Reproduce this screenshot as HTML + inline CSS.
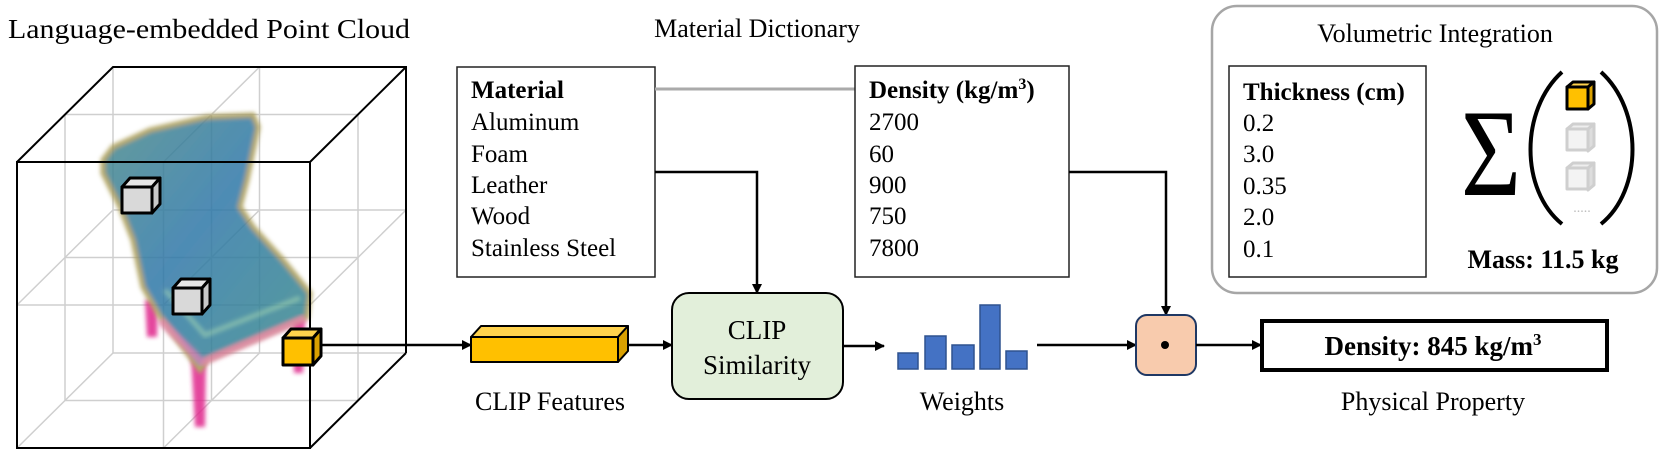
<!DOCTYPE html>
<html><head><meta charset="utf-8"><style>
html,body{margin:0;padding:0;background:#fff;}
svg{display:block;}
svg text{font-family:"Liberation Serif","DejaVu Serif",serif !important;fill:#000;}
</style></head><body>
<svg width="1660" height="455" viewBox="0 0 1660 455" xmlns="http://www.w3.org/2000/svg" font-family="Liberation Serif, serif">
<defs>
<marker id="ah" markerWidth="10" markerHeight="10" refX="9" refY="5" orient="auto" markerUnits="userSpaceOnUse">
<path d="M0,0 L10,5 L0,10 z" fill="#000"/>
</marker>
<filter id="bl" x="-10%" y="-10%" width="120%" height="120%"><feGaussianBlur stdDeviation="2"/></filter>
<linearGradient id="cg" x1="0" y1="0" x2="1" y2="1">
<stop offset="0" stop-color="#4a8a8a"/><stop offset="0.45" stop-color="#2f78a8"/><stop offset="1" stop-color="#3b8a8a"/>
</linearGradient>
</defs>

<g font-family="Liberation Serif, serif">
<text x="8" y="38" font-size="27" textLength="402" lengthAdjust="spacingAndGlyphs">Language-embedded Point Cloud</text>
<text x="757" y="37" font-size="26" text-anchor="middle">Material Dictionary</text>
</g>

<g stroke="#cfcfcf" stroke-width="1.5" fill="none">
<path d="M17,162H310M17,305H310M17,448H310M65,114.5H358M65,257.5H358M65,400.5H358M113,67H406M113,210H406M113,353H406"/>
<path d="M17,162V448M163.5,162V448M310,162V448M65,114.5V400.5M211.5,114.5V400.5M358,114.5V400.5M113,67V353M259.5,67V353M406,67V353"/>
<path d="M17,162l96,-95M163.5,162l96,-95M310,162l96,-95M17,305l96,-95M163.5,305l96,-95M310,305l96,-95M17,448l96,-95M163.5,448l96,-95M310,448l96,-95"/>
</g>

<g opacity="0.85">
<g filter="url(#bl)" fill="#e0258c">
<path d="M145,300 L158,300 L157,337 L147,337 z"/>
<path d="M191,355 L206,355 L205,427 L195,427 z"/>
<path d="M292,318 L305,318 L303,373 L294,373 z"/>
</g>
<path filter="url(#bl)" d="M103,160 L113,147 L150,130 L207,117 L253,115 L258,127 L247,180 L240,207 L253,227 L283,260 L310,293 L307,317 L207,360 L200,370 L160,317 L143,287 L133,240 L120,207 L103,173 z" fill="url(#cg)" stroke="#a89a50" stroke-width="5"/>
<path filter="url(#bl)" d="M160,320 L202,362 L305,318" fill="none" stroke="#e76aa7" stroke-width="8" opacity="0.7"/>
<path filter="url(#bl)" d="M165,290 L205,335 L300,298" fill="none" stroke="#9fd9a8" stroke-width="5" opacity="0.5"/>
</g>

<g stroke="#000" stroke-width="2" fill="none">
<rect x="17" y="162" width="293" height="286"/>
<path d="M17,162L113,67H406V353M310,162L406,67M310,448L406,353"/>
</g>

<g stroke="#000" stroke-width="3" stroke-linejoin="round">
<path d="M122,187 l8,-9 h30 l-8,9 z" fill="#e6e6e6"/><path d="M152,187 l8,-9 v26 l-8,9 z" fill="#c8c8c8"/><rect x="122" y="187" width="30" height="26" fill="#d9d9d9"/>
<path d="M173,288 l8,-9 h29 l-8,9 z" fill="#e6e6e6"/><path d="M202,288 l8,-9 v26 l-8,9 z" fill="#c8c8c8"/><rect x="173" y="288" width="29" height="26" fill="#d9d9d9"/>
<path d="M283,338 l8,-9 h30 l-8,9 z" fill="#ffd24d"/><path d="M313,338 l8,-9 v27 l-8,9 z" fill="#d9a000"/><rect x="283" y="338" width="30" height="27" fill="#ffc000"/>
</g>

<line x1="321" y1="345" x2="471" y2="345" stroke="#000" stroke-width="2.5" marker-end="url(#ah)"/>

<g stroke="#000" stroke-width="2" stroke-linejoin="round">
<path d="M471,337 l10,-11 h147 l-10,11 z" fill="#ffd24d"/>
<path d="M618,337 l10,-11 v25 l-10,11 z" fill="#d9a000"/>
<rect x="471" y="337" width="147" height="25" fill="#ffc000"/>
</g>
<line x1="628" y1="345" x2="672" y2="345" stroke="#000" stroke-width="2.5" marker-end="url(#ah)"/>

<rect x="457" y="67" width="198" height="210" fill="#fff" stroke="#222" stroke-width="1.5"/>
<line x1="655" y1="89" x2="855" y2="89" stroke="#aaaaaa" stroke-width="3"/>
<rect x="855" y="66" width="214" height="211" fill="#fff" stroke="#222" stroke-width="1.5"/>

<path d="M655,172 H757 V293" fill="none" stroke="#000" stroke-width="2.5" marker-end="url(#ah)"/>
<path d="M1069,172 H1166 V315" fill="none" stroke="#000" stroke-width="2.5" marker-end="url(#ah)"/>

<rect x="672" y="293" width="171" height="106" rx="17" fill="#e2efda" stroke="#000" stroke-width="2"/>
<line x1="843" y1="346" x2="884" y2="346" stroke="#000" stroke-width="2.5" marker-end="url(#ah)"/>

<g fill="#4472c4" stroke="#2f528f" stroke-width="1.5">
<rect x="898" y="353" width="20" height="16"/>
<rect x="925" y="336" width="21" height="33"/>
<rect x="952" y="345" width="22" height="24"/>
<rect x="980" y="305" width="20" height="64"/>
<rect x="1006" y="351" width="21" height="18"/>
</g>
<line x1="1037" y1="345" x2="1136" y2="345" stroke="#000" stroke-width="2.5" marker-end="url(#ah)"/>

<rect x="1136" y="315" width="60" height="60" rx="11" fill="#f8cbad" stroke="#1f3864" stroke-width="2"/>
<circle cx="1165" cy="345" r="4" fill="#000"/>
<line x1="1196" y1="345" x2="1261" y2="345" stroke="#000" stroke-width="2.5" marker-end="url(#ah)"/>

<rect x="1262" y="321" width="345" height="49" fill="#fff" stroke="#000" stroke-width="4"/>

<rect x="1212" y="6" width="445" height="287" rx="25" fill="none" stroke="#a6a6a6" stroke-width="2.5"/>
<rect x="1229" y="66" width="197" height="211" fill="#fff" stroke="#222" stroke-width="1.5"/>

<path d="M1562,72 C1520,110 1520,190 1562,224" fill="none" stroke="#000" stroke-width="4"/>
<path d="M1601,72 C1643,110 1643,190 1601,224" fill="none" stroke="#000" stroke-width="4"/>
<g stroke="#000" stroke-width="3" stroke-linejoin="round">
<path d="M1567,87 l6,-5 h21 l-6,5 z" fill="#ffd24d"/><path d="M1588,87 l6,-5 v22 l-6,5 z" fill="#d9a000"/><rect x="1567" y="87" width="21" height="22" fill="#ffc000"/>
</g>
<g stroke="#cfcfcf" stroke-width="3" stroke-linejoin="round">
<path d="M1567,129 l6,-5 h21 l-6,5 z" fill="#eee"/><path d="M1588,129 l6,-5 v22 l-6,5 z" fill="#ddd"/><rect x="1567" y="129" width="21" height="21" fill="#f3f3f3"/>
<path d="M1567,168 l6,-5 h21 l-6,5 z" fill="#eee"/><path d="M1588,168 l6,-5 v22 l-6,5 z" fill="#ddd"/><rect x="1567" y="168" width="21" height="21" fill="#f3f3f3"/>
</g>

<g font-family="Liberation Serif, serif">
<text x="550" y="410" font-size="26" text-anchor="middle">CLIP Features</text>
<g font-size="25">
<text x="471" y="98" font-weight="bold">Material</text>
<text x="471" y="130">Aluminum</text>
<text x="471" y="162">Foam</text>
<text x="471" y="193">Leather</text>
<text x="471" y="224">Wood</text>
<text x="471" y="256">Stainless Steel</text>
<text x="869" y="98" font-weight="bold">Density (kg/m<tspan font-size="16" dy="-9">3</tspan><tspan dy="9">)</tspan></text>
<text x="869" y="130">2700</text>
<text x="869" y="162">60</text>
<text x="869" y="193">900</text>
<text x="869" y="224">750</text>
<text x="869" y="256">7800</text>
</g>
<text x="757" y="339" font-size="27" text-anchor="middle">CLIP</text>
<text x="757" y="374" font-size="27" text-anchor="middle">Similarity</text>
<text x="962" y="410" font-size="26" text-anchor="middle">Weights</text>
<text x="1433" y="355" font-size="27" font-weight="bold" text-anchor="middle">Density: 845 kg/m<tspan font-size="17" dy="-10">3</tspan></text>
<text x="1433" y="410" font-size="26" text-anchor="middle">Physical Property</text>
<text x="1435" y="42" font-size="26" text-anchor="middle">Volumetric Integration</text>
<g font-size="25">
<text x="1243" y="100" font-weight="bold">Thickness (cm)</text>
<text x="1243" y="131">0.2</text>
<text x="1243" y="162">3.0</text>
<text x="1243" y="194">0.35</text>
<text x="1243" y="225">2.0</text>
<text x="1243" y="257">0.1</text>
</g>
<text x="1461" y="195" font-size="124" textLength="60" lengthAdjust="spacingAndGlyphs">Σ</text>
<text x="1582" y="212" font-size="14" text-anchor="middle" style="fill:#bbb">.....</text>
<text x="1543" y="268" font-size="26" font-weight="bold" text-anchor="middle">Mass: 11.5 kg</text>
</g>
</svg>
</body></html>
